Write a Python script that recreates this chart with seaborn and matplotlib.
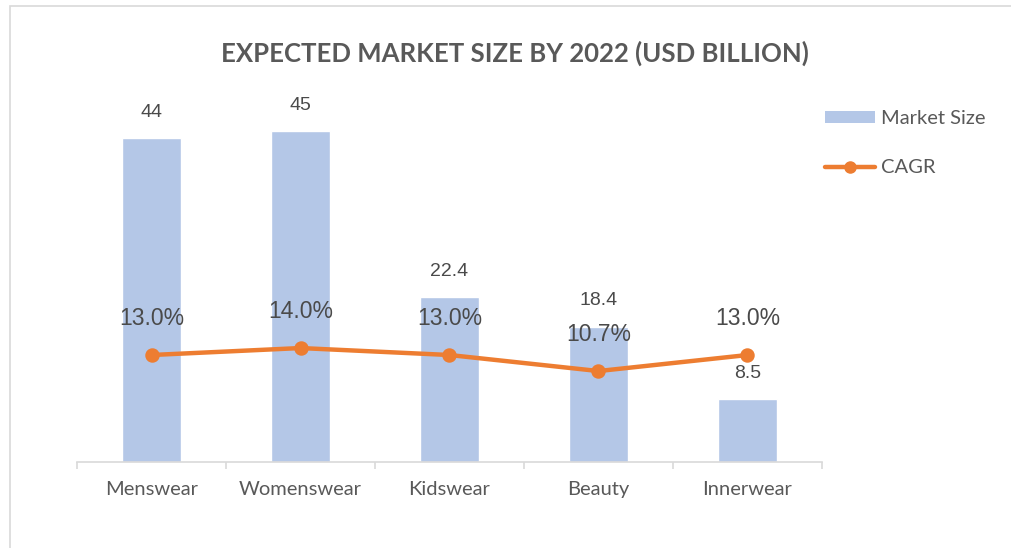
import numpy as np
import matplotlib
matplotlib.use("Agg")
import matplotlib.pyplot as plt
from matplotlib.patches import Patch, Rectangle
from matplotlib.lines import Line2D
import seaborn as sns

categories = ["Menswear", "Womenswear", "Kidswear", "Beauty", "Innerwear"]
market_size = [44, 45, 22.4, 18.4, 8.5]
cagr = [13.0, 14.0, 13.0, 10.7, 13.0]

BAR_COLOR = "#B4C7E7"
LINE_COLOR = "#ED7D31"
TEXT_COLOR = "#595959"
LABEL_COLOR = "#4a4a4a"

sns.set_theme(style="white")
plt.rcParams["font.family"] = ["Lato", "DejaVu Sans"]

fig = plt.figure(figsize=(10.12, 5.48), dpi=100)
ax = fig.add_axes([77 / 1012, 1 - 462 / 548, 745 / 1012, 368 / 548])

sns.barplot(x=categories, y=market_size, color=BAR_COLOR, width=0.39,
            saturation=1, ax=ax)
ax.set_ylim(0, 50)
ax.set_xlim(-0.5, len(categories) - 0.5)

# CAGR on a secondary axis
ax2 = ax.twinx()
sns.pointplot(x=categories, y=cagr, color=LINE_COLOR, markers="o",
              markersize=8, linewidth=3.2, ax=ax2)
ax2.set_ylim(-2.35, 50.45)
ax2.set_xlim(-0.5, len(categories) - 0.5)

# data labels
for i, v in enumerate(market_size):
    ax.annotate(f"{v:g}", (i, v), xytext=(0, 18.5), textcoords="offset points",
                ha="center", va="center", fontsize=14, color=LABEL_COLOR,
                family=["Liberation Sans", "DejaVu Sans"])
for i, v in enumerate(cagr):
    ax2.annotate(f"{v:.1f}%", (i, v), xytext=(0, 26.5), textcoords="offset points",
                 ha="center", va="center", fontsize=16.5, color=LABEL_COLOR,
                 family=["Liberation Sans", "DejaVu Sans"])

# axes styling
for a in (ax, ax2):
    for side in ("top", "right", "left"):
        a.spines[side].set_visible(False)
    a.set_yticks([])
    a.set_ylabel("")
ax2.spines["bottom"].set_visible(False)
ax.spines["bottom"].set_color("#D9D9D9")
ax.spines["bottom"].set_linewidth(1.2)
ax.set_xticks(np.arange(-0.5, len(categories)), minor=True)
ax.tick_params(axis="x", which="minor", length=5, width=1.2, color="#D9D9D9",
               direction="out", bottom=True)
ax.tick_params(axis="x", which="major", length=0, pad=14, labelsize=14.5,
               labelcolor=TEXT_COLOR)
ax2.tick_params(axis="x", which="both", length=0, labelbottom=False)

fig.text(515 / 1012, 1 - 53 / 548, "EXPECTED MARKET SIZE BY 2022 (USD BILLION)",
         ha="center", va="center", fontsize=18.5, fontweight="bold", color=TEXT_COLOR)

handles = [
    Patch(facecolor=BAR_COLOR, edgecolor="none"),
    Line2D([], [], color=LINE_COLOR, lw=3.2, marker="o", markersize=8),
]
fig.legend(handles, ["Market Size", "CAGR"], loc="upper left",
           bbox_to_anchor=(825 / 1012, 1 - 110 / 548), frameon=False,
           fontsize=14.5, labelcolor=TEXT_COLOR, handlelength=2.5,
           handleheight=0.55, handletextpad=0.3, labelspacing=1.6,
           borderpad=0, borderaxespad=0)

fig.add_artist(Rectangle((10 / 1012, -0.01), 1.0, 1 - 6 / 548 + 0.01,
                         transform=fig.transFigure, fill=False,
                         edgecolor="#D9D9D9", linewidth=1.2))

fig.savefig("out.png", dpi=100, facecolor="white")
